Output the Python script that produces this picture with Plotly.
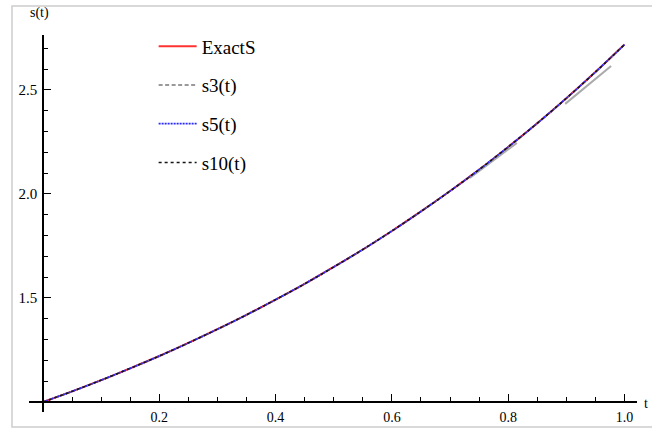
import plotly.graph_objects as go

# ---- data ----
t_vals = [0.0, 0.05, 0.1, 0.15, 0.2, 0.25, 0.3, 0.35, 0.4, 0.45, 0.5,
          0.55, 0.6, 0.65, 0.7, 0.75, 0.8, 0.85, 0.9, 0.95, 1.0]
exact_s = [1.000, 1.051, 1.105, 1.162, 1.221, 1.284, 1.350, 1.419, 1.492, 1.568, 1.649,
           1.733, 1.822, 1.916, 2.014, 2.117, 2.226, 2.340, 2.460, 2.586, 2.718]
s3_vals = [1.000, 1.051, 1.105, 1.162, 1.221, 1.284, 1.350, 1.419, 1.492, 1.568, 1.649,
           1.733, 1.822, 1.916, 2.014, 2.117, 2.226, 2.340, 2.460, 2.586, 2.718]
s5_vals = [1.000, 1.051, 1.105, 1.162, 1.221, 1.284, 1.350, 1.419, 1.492, 1.568, 1.649,
           1.733, 1.822, 1.916, 2.014, 2.117, 2.226, 2.340, 2.460, 2.586, 2.718]
s10_vals = [1.000, 1.051, 1.105, 1.162, 1.221, 1.284, 1.350, 1.419, 1.492, 1.568, 1.649,
            1.733, 1.822, 1.916, 2.014, 2.117, 2.226, 2.340, 2.460, 2.586, 2.718]
# gray offset segments visible near t=0.73-0.82 and 0.90-0.98
seg_t = [0.734, 0.815, None, 0.898, 0.977]
seg_s = [2.077, 2.245, None, 2.433, 2.615]

x_tick_vals = [0.2, 0.4, 0.6, 0.8, 1.0]
x_tick_text = ["0.2", "0.4", "0.6", "0.8", "1.0"]
y_tick_vals = [1.5, 2.0, 2.5]
y_tick_text = ["1.5", "2.0", "2.5"]

X_RANGE = [-0.0241, 1.0215]
Y_RANGE = [0.952, 2.764]

SERIF = "Liberation Serif, Times New Roman, serif"

fig = go.Figure()
fig.add_trace(go.Scatter(x=t_vals, y=exact_s, mode="lines", name="ExactS",
                         line=dict(color="rgb(255,50,50)", width=2, shape="spline"),
                         legendgroup="a"))
fig.add_trace(go.Scatter(x=seg_t, y=seg_s, mode="lines", showlegend=False,
                         line=dict(color="rgb(170,170,170)", width=2), hoverinfo="skip"))
fig.add_trace(go.Scatter(x=t_vals, y=s3_vals, mode="lines", name="s3(t)",
                         line=dict(color="rgb(120,120,120)", width=1.3, dash="4px,2.5px", shape="spline"),
                         legendgroup="b"))
fig.add_trace(go.Scatter(x=t_vals, y=s5_vals, mode="lines", name="s5(t)",
                         line=dict(color="rgb(40,40,255)", width=1.8, dash="2px,1px", shape="spline"),
                         legendgroup="c"))
fig.add_trace(go.Scatter(x=t_vals, y=s10_vals, mode="lines", name="s10(t)",
                         line=dict(color="rgb(20,20,20)", width=1.5, dash="3px,3px", shape="spline"),
                         legendgroup="d"))

x_pos = (1 - Y_RANGE[0]) / (Y_RANGE[1] - Y_RANGE[0])
y_pos = (0 - X_RANGE[0]) / (X_RANGE[1] - X_RANGE[0])

fig.update_layout(
    width=652, height=428,
    margin=dict(l=29, r=15, t=35, b=16, autoexpand=False),
    paper_bgcolor="white", plot_bgcolor="white",
    font=dict(family=SERIF, size=15, color="black"),
    showlegend=True,
    legend=dict(x=0.205, y=1.02, xanchor="left", yanchor="top",
                font=dict(family=SERIF, size=19, color="black"),
                bgcolor="rgba(0,0,0,0)", tracegroupgap=11,
                itemwidth=38),
    xaxis=dict(range=X_RANGE, anchor="free", position=x_pos, automargin=False,
               showgrid=False, zeroline=False, showline=True, linecolor="black", linewidth=1.5,
               tickmode="array", tickvals=x_tick_vals, ticktext=x_tick_text,
               ticks="inside", ticklen=7, tickwidth=1.2, tickcolor="black",
               ticklabelstandoff=2,
               minor=dict(dtick=0.05, tick0=0, ticks="inside", ticklen=4, tickcolor="black", tickwidth=1),
               tickfont=dict(family=SERIF, size=14, color="black")),
    yaxis=dict(range=Y_RANGE, anchor="free", position=y_pos, automargin=False,
               showgrid=False, zeroline=False, showline=True, linecolor="black", linewidth=1.5,
               tickmode="array", tickvals=y_tick_vals, ticktext=y_tick_text,
               ticks="inside", ticklen=7, tickwidth=1.2, tickcolor="black",
               ticklabelstandoff=2,
               minor=dict(dtick=0.1, tick0=1.0, ticks="inside", ticklen=4, tickcolor="black", tickwidth=1),
               tickfont=dict(family=SERIF, size=15, color="black")),
    shapes=[dict(type="rect", xref="paper", yref="paper",
                 x0=-0.028, x1=1.2, y0=-0.04, y1=1.077,
                 line=dict(color="rgb(205,205,205)", width=1.5), layer="below")],
    annotations=[
        dict(text="s(t)", xref="paper", yref="paper", x=0.018, y=1.058,
             xanchor="center", yanchor="middle", showarrow=False,
             font=dict(family=SERIF, size=14, color="black")),
        dict(text="t", xref="paper", yref="paper", x=1.008, y=x_pos - 0.005,
             xanchor="left", yanchor="middle", showarrow=False,
             font=dict(family=SERIF, size=14, color="black")),
    ],
)

fig.write_html("out.html")
